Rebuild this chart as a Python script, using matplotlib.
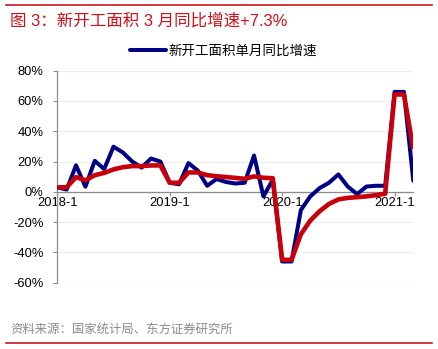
import matplotlib
matplotlib.use("Agg")
import matplotlib.pyplot as plt
from matplotlib.lines import Line2D
from matplotlib.ticker import FuncFormatter, MultipleLocator

plt.rcParams["font.family"] = ["Liberation Sans", "Noto Sans CJK SC", "DejaVu Sans"]
plt.rcParams["axes.unicode_minus"] = False

# 2018-1 ... 2021-3, monthly
months = [f"{y}-{m}" for y in range(2018, 2022) for m in range(1, 13)][:39]
tick_labels = ["2018-1", "2019-1", "2020-1", "2021-1"]

# new starts, single-month YoY (%)
monthly_yoy = [3, 1.5, 17.5, 3.4, 20.5, 15, 29.8, 26, 20, 16, 22, 20,
               6, 5, 19, 14, 4, 8.5, 6.5, 5.5, 6, 24, -3, 8,
               -46, -46, -12, -3, 2.5, 6, 11.5, 3.5, -1.5, 3.5, 4, 4,
               66, 66, 7.3]
# new starts, cumulative YoY (%)
cumulative_yoy = [3, 3, 9.7, 7.6, 11, 12.5, 14.8, 16.3, 17, 17, 17.4, 17.5,
                  6, 6, 12.8, 12.8, 11, 10.3, 9.8, 9.2, 8.6, 10.2, 9.3, 9,
                  -44.9, -44.9, -28, -19, -12.8, -8, -5, -4, -3.5, -3, -2.2, -1.2,
                  64.3, 64.3, 28.2]

BLUE = "#000085"
RED = "#C8000A"
AXIS_GRAY = "#8C8C8C"

fig = plt.figure(figsize=(4.39, 3.49), dpi=100)
ax = fig.add_axes([0.1305, 0.19, 0.811, 0.6074])

x = list(range(len(months)))
ax.plot(x, monthly_yoy, color=BLUE, lw=2.9, solid_joinstyle="round",
        solid_capstyle="round", label="新开工面积单月同比增速", zorder=3)
ax.plot(x, cumulative_yoy, color=RED, lw=3.3, solid_joinstyle="round",
        solid_capstyle="butt", zorder=4)

ax.set_xlim(0, len(months) - 1)
ax.set_ylim(-60, 80)
ax.yaxis.set_major_locator(MultipleLocator(20))
ax.yaxis.set_major_formatter(FuncFormatter(lambda v, _: f"{v:.0f}%"))
ax.set_xticks([months.index(t) for t in tick_labels])
ax.set_xticklabels(tick_labels)

ax.yaxis.grid(True, color="#EDEDED", lw=0.9)
ax.set_axisbelow(True)
for side in ("top", "right"):
    ax.spines[side].set_visible(False)
ax.spines["bottom"].set_position(("data", 0))
ax.spines["left"].set_color(AXIS_GRAY)
ax.spines["bottom"].set_color(AXIS_GRAY)
ax.spines["left"].set_linewidth(0.9)
ax.spines["bottom"].set_linewidth(0.9)
ax.tick_params(axis="y", direction="out", length=3, width=0.8, color=AXIS_GRAY,
               pad=7, labelsize=9.3, labelcolor="black")
ax.tick_params(axis="x", direction="out", length=3, width=0.8, color=AXIS_GRAY,
               pad=1, labelsize=9.3, labelcolor="black")
for lab in ax.get_xticklabels():
    lab.set_zorder(1)

ax.legend(loc="center", bbox_to_anchor=(0.508, 0.854), bbox_transform=fig.transFigure,
          frameon=False, fontsize=9.7, handlelength=2.7, handletextpad=0.15,
          borderpad=0)

# report frame: red rules, title, source
fig.add_artist(Line2D([0.014, 0.984], [0.986, 0.986], color=RED, lw=1.1))
fig.add_artist(Line2D([0.014, 0.984], [0.017, 0.017], color=RED, lw=1.1))
fig.text(0.023, 0.940, "图 3：新开工面积 3 月同比增速+7.3%", color="#D0101A",
         fontsize=11.9, va="center", ha="left")
fig.text(0.023, 0.054, "资料来源：国家统计局、东方证券研究所", color="#8A8A8A",
         fontsize=8.9, va="center", ha="left")

fig.savefig("out.png", dpi=100)
